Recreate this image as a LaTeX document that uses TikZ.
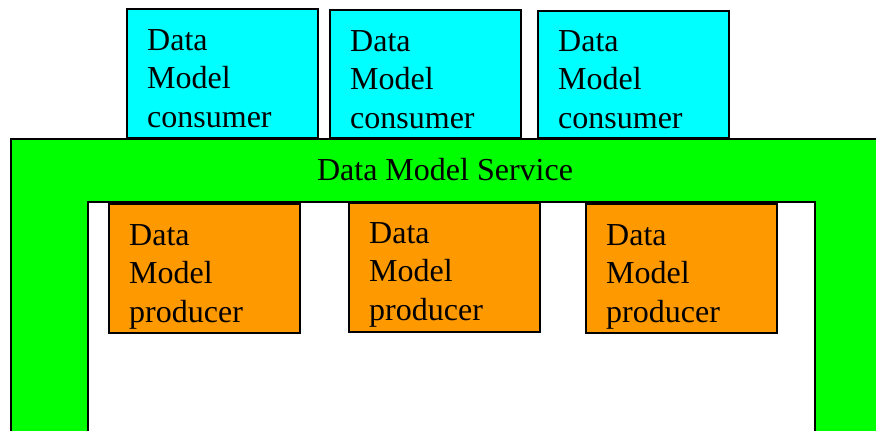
\documentclass[tikz,border=0pt]{standalone}
\usepackage{fontspec}
\setmainfont{Liberation Serif}
\usetikzlibrary{calc}
\definecolor{svcgreen}{HTML}{00FF00}
\definecolor{conscyan}{HTML}{00FFFF}
\definecolor{prodorange}{HTML}{FF9900}
\tikzset{
  boxbase/.style={draw=black, line width=2.2pt, inner sep=0pt, anchor=north west,
    minimum width=191pt, minimum height=#1},
  consbox/.style={boxbase=#1, fill=conscyan},
  prodbox/.style={boxbase=129pt, fill=prodorange},
  boxtext/.style={anchor=base west, inner sep=0pt, align=left,
    font=\fontsize{32}{38.5}\selectfont},
}
\begin{document}
\begin{tikzpicture}[x=1pt,y=-1pt]
\useasboundingbox (0,0) rectangle (876,431);
\clip (0,0) rectangle (876,431);
% service shape
\draw[fill=svcgreen, line width=2.2pt] (11,480) -- (11,139) -- (900,139) -- (900,480)
  -- (815,480) -- (815,202) -- (88,202) -- (88,480) -- cycle;
\node[anchor=base, inner sep=0pt, font=\fontsize{32}{38.5}\selectfont] (svc) at (445,180) {Data Model Service};
% consumers
\node[consbox=129pt] (c1) at (126,8) {};
\node[consbox=128pt] (c2) at (329,9) {};
\node[consbox=127pt] (c3) at (537,10) {};
\node[boxtext] (c1t) at ($(c1.north west)+(21,119)$) {Data\\Model\\consumer};
\node[boxtext] (c2t) at ($(c2.north west)+(21,119)$) {Data\\Model\\consumer};
\node[boxtext] (c3t) at ($(c3.north west)+(21,118)$) {Data\\Model\\consumer};
% producers
\node[prodbox] (p1) at (108,203) {};
\node[prodbox] (p2) at (348,202) {};
\node[prodbox] (p3) at (585,203) {};
\node[boxtext] (p1t) at ($(p1.north west)+(21,119)$) {Data\\Model\\producer};
\node[boxtext] (p2t) at ($(p2.north west)+(21,118)$) {Data\\Model\\producer};
\node[boxtext] (p3t) at ($(p3.north west)+(21,119)$) {Data\\Model\\producer};
\end{tikzpicture}
\end{document}
